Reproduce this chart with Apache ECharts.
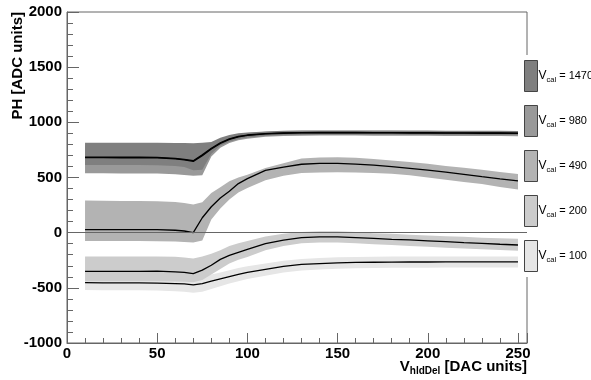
<!DOCTYPE html>
<html>
<head>
<meta charset="utf-8">
<script src="https://cdn.jsdelivr.net/npm/echarts@6/dist/echarts.min.js"></script>
<style>
  html, body { margin: 0; padding: 0; background: #fff; }
  #chart { width: 591px; height: 380px; }
</style>
</head>
<body>
<div id="chart"></div>
<script>
// Hold-delay DAC scan: pulse height mean and spread for several Vcal settings
const vhld = [10, 20, 30, 40, 50, 60, 65, 70, 75, 80, 85, 90, 95, 100, 110, 120, 130, 140, 150, 160, 170, 180, 190, 200, 210, 220, 230, 240, 250];

const vcalLevels = ['1470', '980', '490', '200', '100'];

// Vcal = 1470
const mean1470 = [685, 685, 684, 684, 682, 673, 664, 652, 705, 765, 815, 850, 872, 885, 898, 904, 907, 908, 908, 908, 907, 907, 906, 906, 905, 905, 904, 904, 903];
const hi1470   = [815, 816, 815, 815, 815, 813, 812, 810, 815, 822, 860, 885, 900, 908, 918, 924, 926, 927, 927, 927, 926, 926, 925, 925, 924, 924, 923, 923, 922];
const lo1470   = [614, 614, 613, 613, 612, 605, 595, 565, 570, 715, 790, 825, 848, 862, 878, 886, 888, 890, 890, 890, 889, 889, 888, 888, 887, 887, 886, 886, 885];

// Vcal = 980
const mean980 = [680, 680, 679, 679, 677, 668, 659, 646, 698, 758, 808, 845, 868, 882, 895, 901, 904, 905, 905, 905, 904, 904, 903, 903, 902, 902, 901, 901, 900];
const hi980   = [790, 790, 790, 790, 790, 788, 786, 782, 790, 810, 850, 878, 895, 904, 915, 921, 923, 924, 924, 924, 923, 923, 922, 922, 921, 921, 920, 920, 919];
const lo980   = [538, 538, 537, 537, 536, 530, 522, 515, 520, 690, 770, 812, 838, 852, 870, 876, 878, 880, 880, 880, 879, 879, 878, 878, 877, 877, 876, 876, 875];

// Vcal = 490
const mean490 = [28, 28, 27, 28, 27, 22, 15, 0, 135, 235, 315, 375, 445, 490, 565, 595, 620, 628, 628, 622, 612, 598, 582, 566, 548, 528, 507, 488, 470];
const hi490   = [292, 290, 288, 286, 284, 278, 268, 255, 275, 360, 412, 465, 500, 525, 585, 630, 672, 682, 684, 678, 668, 655, 640, 625, 605, 588, 570, 550, 532];
const lo490   = [-75, -75, -76, -76, -77, -80, -84, -90, -70, 120, 220, 300, 365, 405, 475, 515, 540, 545, 548, 545, 540, 535, 520, 500, 480, 460, 440, 415, 392];

// Vcal = 200
const mean200 = [-350, -350, -350, -350, -348, -355, -360, -372, -340, -295, -242, -205, -178, -152, -100, -68, -45, -38, -38, -45, -52, -60, -66, -74, -82, -90, -97, -105, -112];
const hi200   = [-215, -215, -215, -215, -215, -218, -225, -235, -215, -190, -160, -120, -95, -75, -35, -10, 5, 12, 12, 5, -5, -10, -18, -25, -32, -38, -45, -50, -55];
const lo200   = [-440, -440, -440, -440, -440, -442, -445, -450, -430, -380, -330, -280, -245, -220, -160, -120, -97, -90, -90, -97, -105, -112, -120, -128, -136, -143, -150, -158, -165];

// Vcal = 100
const mean100 = [-453, -455, -455, -455, -457, -462, -465, -473, -462, -440, -418, -398, -378, -360, -332, -305, -288, -280, -273, -270, -268, -267, -266, -266, -265, -265, -265, -265, -265];
const hi100   = [-395, -396, -396, -396, -398, -402, -405, -410, -400, -380, -360, -340, -320, -305, -280, -255, -238, -230, -223, -220, -218, -217, -216, -216, -215, -215, -215, -215, -215];
const lo100   = [-520, -522, -522, -522, -524, -530, -535, -545, -535, -510, -485, -460, -440, -420, -390, -360, -342, -334, -326, -322, -320, -318, -317, -317, -316, -316, -316, -316, -316];

const FONT = '"Liberation Sans", Arial, Helvetica, sans-serif';
const AXIS_GRAY = '#666';

const bandColors = { '1470': '#7f7f7f', '980': '#999999', '490': '#b3b3b3', '200': '#cccccc', '100': '#e6e6e6' };

// Filled spread band between lo and hi, projected through the axes
function bandSeries(name, lo, hi) {
  const color = bandColors[name];
  return {
    type: 'custom',
    name: name,
    z: 2,
    silent: true,
    itemStyle: { color: color },
    data: [[vhld[0], lo[0]]],
    renderItem: function (params, api) {
      const upper = vhld.map((x, i) => api.coord([x, hi[i]]));
      const lower = vhld.map((x, i) => api.coord([x, lo[i]])).reverse();
      return {
        type: 'polygon',
        shape: { points: upper.concat(lower) },
        style: { fill: color, stroke: null }
      };
    }
  };
}

function meanSeries(id, mean) {
  return {
    type: 'line',
    name: id,
    z: 3,
    silent: true,
    symbol: 'none',
    showSymbol: false,
    lineStyle: { color: '#000', width: 1.3 },
    data: vhld.map((x, i) => [x, mean[i]])
  };
}

const chart = echarts.init(document.getElementById('chart'), null, { renderer: 'canvas' });

chart.setOption({
  animation: false,
  backgroundColor: '#fff',
  grid: {
    left: 67, right: 64, top: 12, bottom: 37,
    show: true, borderColor: AXIS_GRAY, borderWidth: 1, backgroundColor: 'transparent'
  },
  xAxis: {
    type: 'value', min: 0, max: 255, interval: 50,
    axisLine: { show: true, onZero: false, lineStyle: { color: AXIS_GRAY, width: 1 } },
    axisTick: { show: true, inside: true, length: 10, lineStyle: { color: AXIS_GRAY } },
    minorTick: { show: true, splitNumber: 5, length: 5, lineStyle: { color: AXIS_GRAY } },
    splitLine: { show: false },
    axisLabel: { fontFamily: FONT, fontWeight: 'bold', fontSize: 15, color: '#000', margin: 3, showMaxLabel: false,
                 formatter: v => String(v) }
  },
  yAxis: {
    type: 'value', min: -1000, max: 2000, interval: 500,
    axisLine: { show: true, onZero: false, lineStyle: { color: AXIS_GRAY, width: 1 } },
    axisTick: { show: true, inside: true, length: 12, lineStyle: { color: AXIS_GRAY } },
    minorTick: { show: true, splitNumber: 5, length: 6, lineStyle: { color: AXIS_GRAY } },
    splitLine: { show: false },
    axisLabel: { fontFamily: FONT, fontWeight: 'bold', fontSize: 15, color: '#000', margin: 5,
                 formatter: v => String(v) }
  },
  legend: {
    orient: 'vertical',
    left: 523, top: 55,
    padding: [5, 4, 5, 1],
    backgroundColor: '#fff',
    icon: 'rect',
    itemWidth: 13, itemHeight: 31, itemGap: 13,
    selectedMode: false,
    itemStyle: { borderColor: '#444', borderWidth: 1 },
    data: vcalLevels.map(v => ({ name: v, itemStyle: { color: bandColors[v], borderColor: '#444', borderWidth: 1 } })),
    formatter: name => '{v|V}{s|cal}{t| = ' + name + '}',
    textStyle: {
      color: '#000',
      padding: [0, 0, 0, -4],
      rich: {
        v: { fontFamily: FONT, fontSize: 12, color: '#000', lineHeight: 16, verticalAlign: 'middle' },
        s: { fontFamily: FONT, fontSize: 7.5, color: '#000', lineHeight: 16, padding: [7, 0, 0, 0], verticalAlign: 'middle' },
        t: { fontFamily: FONT, fontSize: 11, color: '#000', lineHeight: 16, verticalAlign: 'middle' }
      }
    }
  },
  graphic: [
    {
      type: 'text',
      x: 18, y: 12,
      rotation: Math.PI / 2,
      style: {
        text: 'PH [ADC units]',
        fontFamily: FONT, fontWeight: 'bold', fontSize: 15, fill: '#000',
        align: 'right', verticalAlign: 'middle'
      }
    },
    {
      type: 'text',
      x: 527, y: 367,
      style: {
        text: '{a|V}{b|hldDel}{a| [DAC units]}',
        align: 'right', verticalAlign: 'middle',
        rich: {
          a: { fontFamily: FONT, fontWeight: 'bold', fontSize: 15, fill: '#000', lineHeight: 20, verticalAlign: 'middle' },
          b: { fontFamily: FONT, fontWeight: 'bold', fontSize: 10, fill: '#000', lineHeight: 20, padding: [9, 0, 0, 0], verticalAlign: 'middle' }
        }
      }
    }
  ],
  series: [
    {
      type: 'line', name: 'zero', z: 1, silent: true, symbol: 'none', showSymbol: false,
      data: [[0, 0]],
      markLine: {
        silent: true, symbol: 'none', label: { show: false },
        lineStyle: { color: AXIS_GRAY, width: 1, type: 'solid' },
        data: [{ yAxis: 0 }]
      }
    },
    bandSeries('100', lo100, hi100),
    bandSeries('200', lo200, hi200),
    bandSeries('490', lo490, hi490),
    bandSeries('980', lo980, hi980),
    bandSeries('1470', lo1470, hi1470),
    meanSeries('mean100', mean100),
    meanSeries('mean200', mean200),
    meanSeries('mean490', mean490),
    meanSeries('mean980', mean980),
    meanSeries('mean1470', mean1470)
  ]
});
</script>
</body>
</html>
